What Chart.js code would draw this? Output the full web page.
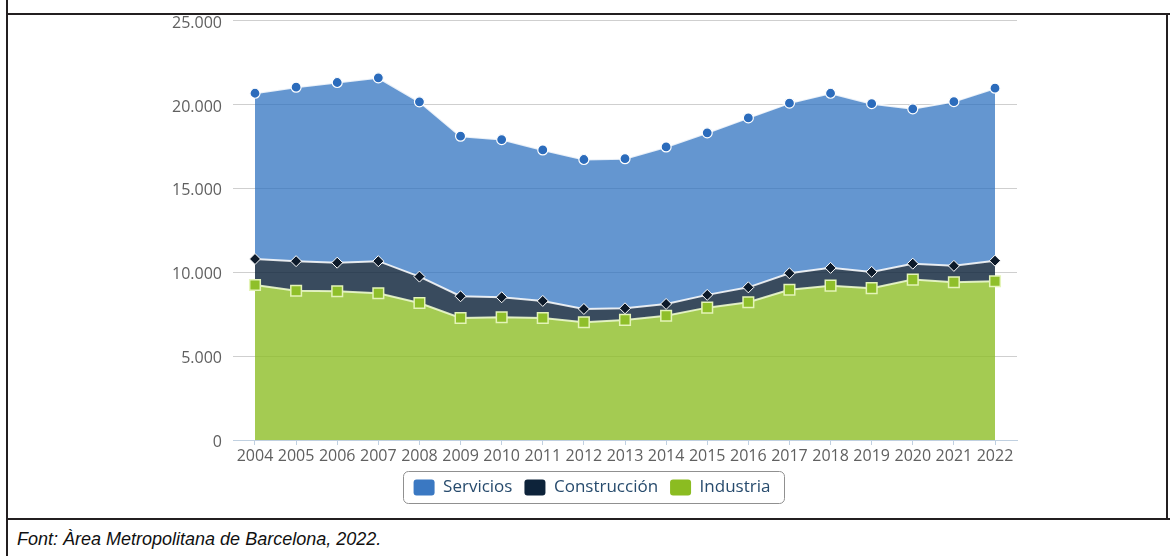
<!DOCTYPE html>
<html><head><meta charset="utf-8">
<script src="https://cdn.jsdelivr.net/npm/chart.js@4"></script>
<style>
html,body{margin:0;padding:0;background:#fff;width:1170px;height:556px;overflow:hidden;}
#wrap{position:absolute;left:167px;top:0;width:1003px;height:519px;}
.line{position:absolute;background:#231f20;}
#foot{position:absolute;left:17px;top:530px;font:italic 18px/18px "Liberation Sans",Arial,sans-serif;color:#111;white-space:nowrap;}
</style></head><body>
<div id="wrap"><canvas id="c" width="1003" height="519"></canvas></div>
<div class="line" style="left:6px;top:0;width:2px;height:556px"></div>
<div class="line" style="left:6px;top:13px;width:1164px;height:2px"></div>
<div class="line" style="left:1166px;top:13px;width:2px;height:507px"></div>
<div class="line" style="left:6px;top:518px;width:1164px;height:2px"></div>
<div id="foot">Font: Àrea Metropolitana de Barcelona, 2022.</div>
<script>
const years = [2004,2005,2006,2007,2008,2009,2010,2011,2012,2013,2014,2015,2016,2017,2018,2019,2020,2021,2022];
const industria    = [9240,8900,8870,8750,8170,7270,7320,7270,7020,7160,7410,7890,8210,8960,9200,9050,9560,9400,9460];
const construccion = [1550,1760,1700,1910,1570,1300,1190,1020,790,690,700,760,890,980,1060,970,950,980,1230];
const servicios    = [9880,10370,10740,10930,10420,9540,9400,9000,8910,8920,9360,9660,10100,10140,10410,10030,9230,9790,10280];
const yTicks = [0,5000,10000,15000,20000,25000];

const fmt = v => String(v).replace(/\B(?=(\d{3})+(?!\d))/g, '.');
const pts = arr => arr.map((v,i)=>({x: years[i], y: v}));

const legendBox = {
  id:'legendBox',
  afterDraw(chart){
    const lg = chart.legend; if(!lg || !lg.legendHitBoxes || !lg.legendHitBoxes.length) return;
    const hb = lg.legendHitBoxes;
    let l = Infinity, r = -Infinity, t = Infinity, b = -Infinity;
    hb.forEach(h=>{l=Math.min(l,h.left);r=Math.max(r,h.left+h.width);t=Math.min(t,h.top);b=Math.max(b,h.top+h.height);});
    const ctx = chart.ctx; ctx.save();
    ctx.strokeStyle = '#909090'; ctx.lineWidth = 1;
    ctx.beginPath();
    ctx.roundRect(Math.round(l-11)+0.5, Math.round(t-8)+0.5, Math.round(r-l+24), Math.round(b-t+15), 5);
    ctx.stroke(); ctx.restore();
  }
};

new Chart(document.getElementById('c'), {
  type:'line',
  data:{
    datasets:[
      {label:'Industria', data:pts(industria), fill:'origin',
        backgroundColor:'rgba(139,188,33,0.78)', borderColor:'rgba(235,248,205,0.9)', borderWidth:2,
        pointStyle:'rect', pointRadius:7.5, pointBackgroundColor:'#8fbf2a', pointBorderColor:'#e4f4b8', pointBorderWidth:1.5,
        legendColor:'#8bbc21'},
      {label:'Construcción', data:pts(construccion), fill:'-1',
        backgroundColor:'rgba(13,35,58,0.82)', borderColor:'rgba(255,255,255,0.85)', borderWidth:2,
        pointStyle:'rectRot', pointRadius:5.5, pointBackgroundColor:'#0d1a2a', pointBorderColor:'#ffffff', pointBorderWidth:1,
        legendColor:'#0d233a'},
      {label:'Servicios', data:pts(servicios), fill:'-1',
        backgroundColor:'rgba(40,110,190,0.72)', borderColor:'rgba(255,255,255,0.85)', borderWidth:2,
        pointStyle:'circle', pointRadius:5, pointBackgroundColor:'#2c6cbc', pointBorderColor:'#ffffff', pointBorderWidth:1.2,
        legendColor:'#3a78c2'}
    ]
  },
  options:{
    responsive:false, animation:false, devicePixelRatio:1,
    layout:{padding:{left:0,right:153,top:20,bottom:13}},
    elements:{line:{tension:0}},
    scales:{
      x:{type:'linear', min:2003.465, max:2022.535,
        border:{display:true,color:'#c0d0e0',width:1},
        grid:{drawOnChartArea:false, drawTicks:true, tickLength:5, tickColor:'#c0d0e0'},
        ticks:{stepSize:1, includeBounds:false, autoSkip:false, maxRotation:0, padding:2,
          color:'#606060', font:{family:'"Open Sans"', size:16},
          callback:v=>String(v)},
        afterFit(s){ s.height = 27; }
      },
      y:{stacked:true, min:0, max:25000,
        border:{display:false},
        grid:{color:'#cfcfcf', drawTicks:false},
        afterBuildTicks(s){ s.ticks = yTicks.map(v=>({value:v})); },
        ticks:{padding:11, labelOffset:2.5, color:'#606060', font:{family:'"Open Sans"', size:16},
          callback:v=>fmt(v)},
        afterFit(s){ s.width = 66; }
      }
    },
    plugins:{
      legend:{position:'bottom', reverse:true,
        labels:{boxWidth:21, boxHeight:16, padding:12, color:'#274b6d', useBorderRadius:true, borderRadius:3,
          font:{family:'"Open Sans"', size:17},
          generateLabels(chart){
            return chart.data.datasets.map((d,i)=>({text:d.label, fillStyle:d.legendColor, strokeStyle:d.legendColor,
              lineWidth:0, hidden:false, datasetIndex:i, borderRadius:3, fontColor:'#274b6d'}));
          }}},
      tooltip:{enabled:false}
    }
  },
  plugins:[legendBox]
});
</script>
</body></html>
